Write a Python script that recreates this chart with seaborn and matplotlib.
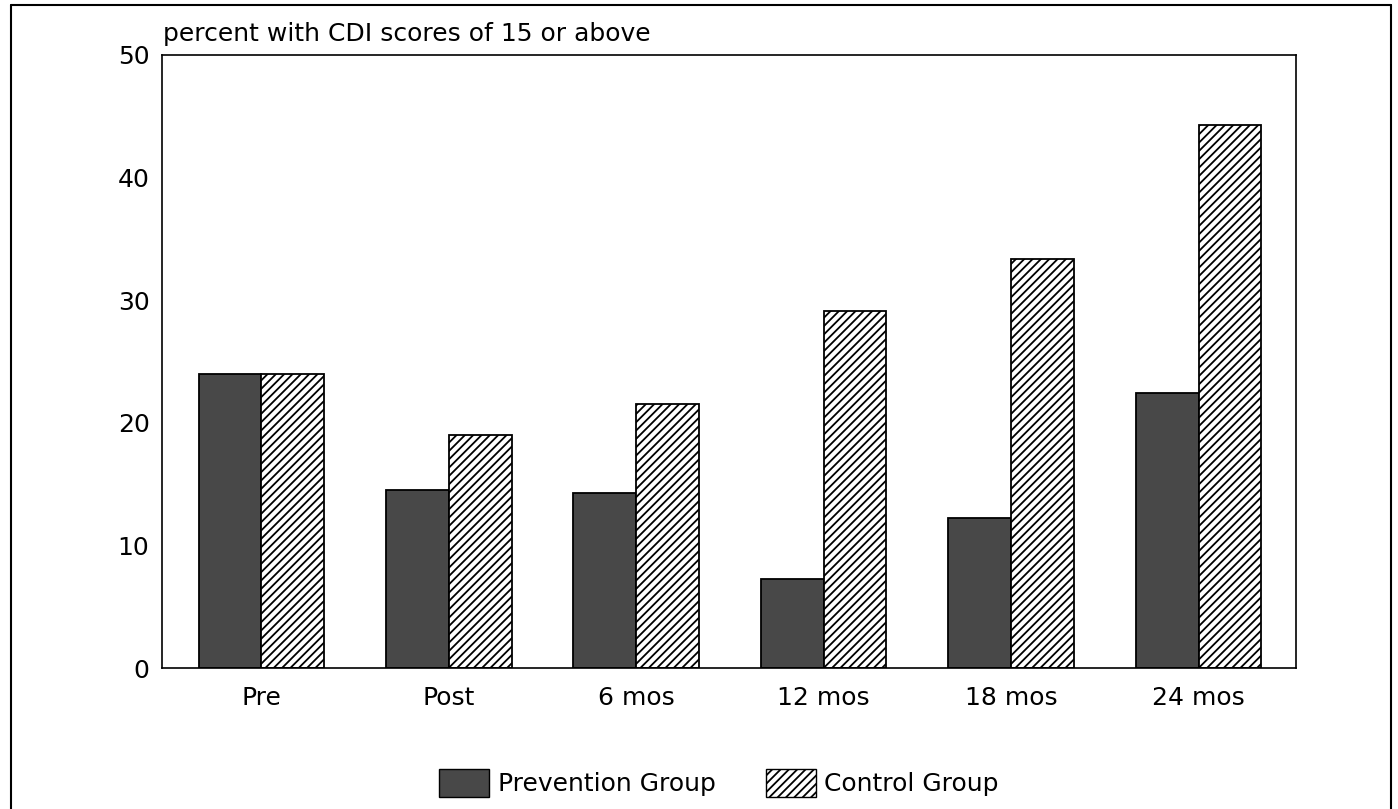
import matplotlib
matplotlib.use("Agg")
import matplotlib.pyplot as plt
import seaborn as sns
import pandas as pd
from matplotlib.patches import Patch
from matplotlib.lines import Line2D

# ---- data ----
categories = ["Pre", "Post", "6 mos", "12 mos", "18 mos", "24 mos"]
groups = ["Prevention Group", "Control Group"]
prevention = [24.0, 14.5, 14.3, 7.3, 12.2, 22.4]
control = [24.0, 19.0, 21.5, 29.1, 33.4, 44.3]
yticks = [0, 10, 20, 30, 40, 50]
ylabel_text = "percent with CDI scores of 15 or above"

df = pd.DataFrame({
    "time": categories * 2,
    "group": [groups[0]] * len(categories) + [groups[1]] * len(categories),
    "pct": prevention + control,
})

sns.set_theme(style="white")
plt.rcParams["font.family"] = ["DejaVu Sans"]
plt.rcParams["text.color"] = "black"
plt.rcParams["hatch.linewidth"] = 1.3
plt.rcParams["hatch.color"] = "black"

FS = 18
dark = "#484848"

fig = plt.figure(figsize=(13.98, 8.09), dpi=100)
ax = fig.add_axes([162 / 1398, 1 - 668 / 809, (1296 - 162) / 1398, (668 - 55) / 809])

sns.barplot(data=df, x="time", y="pct", hue="group", order=categories,
            hue_order=groups, palette=[dark, "white"], saturation=1,
            width=0.67, edgecolor="black", linewidth=1.3, ax=ax,
            legend=False, errorbar=None)

for bar in ax.containers[1]:
    bar.set_hatch("////")
    bar.set_facecolor("white")

ax.set_xlim(-0.53, 5.52)
ax.set_ylim(0, 50)
ax.set_yticks(yticks)
ax.set_yticklabels([str(t) for t in yticks], fontsize=FS, color="black")
ax.set_xticks(range(len(categories)))
ax.set_xticklabels(categories, fontsize=FS, color="black")
ax.tick_params(axis="y", direction="in", length=8, width=1.0, pad=9, colors="black")
ax.tick_params(axis="x", length=0, pad=13)
ax.set_xlabel("")
ax.set_ylabel("")
for s in ax.spines.values():
    s.set_visible(True)
    s.set_color("black")
    s.set_linewidth(1.2)

fig.text(163 / 1398, 1 - 41 / 809, ylabel_text, fontsize=FS, ha="left",
         va="baseline", color="black")

handles = [Patch(facecolor=dark, edgecolor="black", linewidth=1.0),
           Patch(facecolor="white", edgecolor="black", hatch="////", linewidth=1.0)]
fig.legend(handles, groups, loc="center", bbox_to_anchor=(719 / 1398, 1 - 783 / 809),
           ncol=2, frameon=False, fontsize=FS, handlelength=2.0, handleheight=1.3,
           handletextpad=0.35, columnspacing=2.0, labelcolor="black")

# outer frame of the figure
x0, x1, y1 = 11 / 1398, 1391 / 1398, 1 - 5 / 809
for xs, ys in [([x0, x0], [-0.01, y1]), ([x0, x1], [y1, y1]), ([x1, x1], [y1, -0.01])]:
    fig.add_artist(Line2D(xs, ys, transform=fig.transFigure, color="black", linewidth=1.5))

fig.savefig("out.png", dpi=100)
